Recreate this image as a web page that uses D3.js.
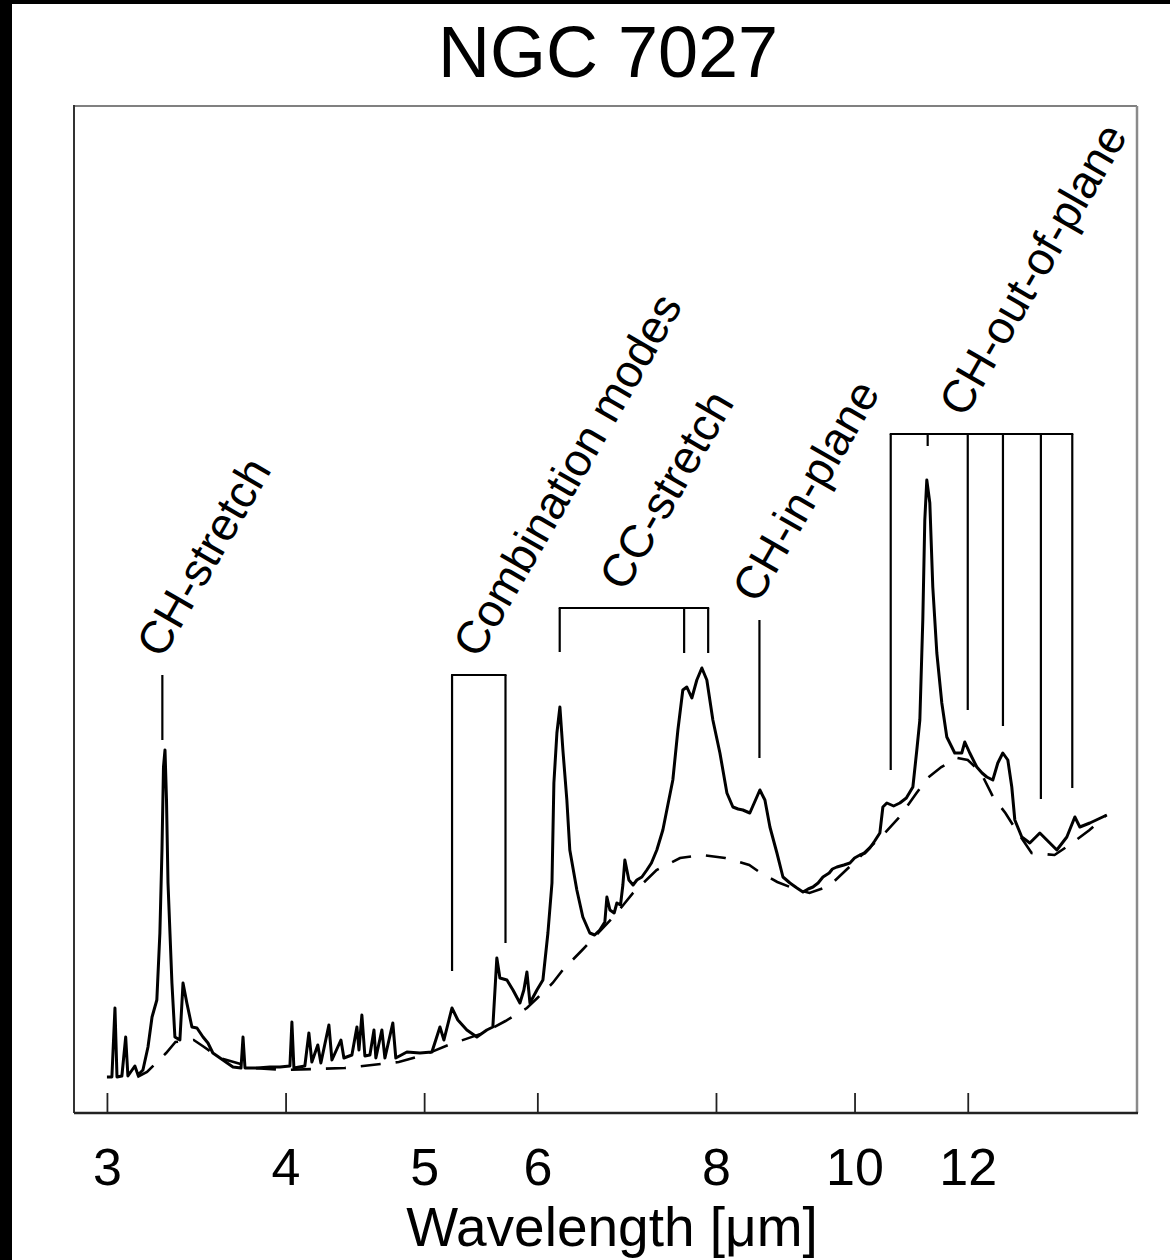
<!DOCTYPE html>
<html><head><meta charset="utf-8">
<script src="https://cdn.jsdelivr.net/npm/d3@7"></script>
<style>html,body{margin:0;padding:0;background:#fff;} svg{display:block;}</style>
</head><body>
<svg id="chart" width="1170" height="1260"></svg>
<script>
// ---------------- data ----------------
const chartTitle = "NGC 7027";
const xAxisLabel = "Wavelength [μm]";
const tickValues = [3, 4, 5, 6, 8, 10, 12];

// observed spectrum (wavelength in μm, flux in arbitrary units)
const wavelength = [3.000,3.024,3.039,3.049,3.073,3.092,3.103,3.138,3.154,3.179,3.205,3.226,3.251,3.267,3.278,3.286,3.294,3.302,3.310,3.331,3.347,3.374,3.391,3.412,3.440,3.468,3.502,3.530,3.558,3.616,3.675,3.723,3.735,3.747,3.820,3.901,3.964,4.028,4.041,4.054,4.126,4.153,4.173,4.213,4.234,4.289,4.310,4.373,4.394,4.451,4.487,4.502,4.523,4.545,4.582,4.612,4.626,4.671,4.694,4.754,4.777,4.863,4.966,5.063,5.129,5.162,5.229,5.279,5.356,5.443,5.531,5.585,5.621,5.649,5.713,5.769,5.834,5.871,5.900,5.929,5.996,6.054,6.103,6.143,6.162,6.192,6.222,6.252,6.292,6.322,6.394,6.456,6.529,6.580,6.635,6.689,6.711,6.744,6.790,6.820,6.860,6.886,6.908,6.953,7.000,7.043,7.100,7.157,7.210,7.273,7.344,7.403,7.463,7.524,7.584,7.633,7.695,7.757,7.820,7.883,7.960,8.051,8.142,8.221,8.290,8.354,8.448,8.544,8.586,8.656,8.726,8.825,8.911,9.012,9.114,9.203,9.280,9.352,9.430,9.504,9.600,9.650,9.720,9.830,9.926,10.000,10.087,10.170,10.250,10.330,10.416,10.467,10.534,10.650,10.757,10.870,10.985,11.055,11.109,11.162,11.198,11.234,11.289,11.343,11.417,11.509,11.602,11.751,11.885,11.943,12.039,12.176,12.280,12.374,12.494,12.595,12.697,12.800,12.882,12.945,13.091,13.261,13.477,13.630,13.851,14.076,14.259,14.374,14.608,15.014];
const flux = [0.36,0.36,1.05,0.36,0.37,0.76,0.37,0.47,0.38,0.43,0.66,0.96,1.13,1.80,2.63,3.46,3.63,3.13,2.30,1.30,0.76,0.73,1.30,1.10,0.86,0.85,0.76,0.70,0.60,0.53,0.46,0.45,0.76,0.45,0.45,0.46,0.46,0.47,0.91,0.45,0.47,0.80,0.51,0.68,0.50,0.88,0.53,0.73,0.55,0.58,0.86,0.63,0.98,0.57,0.58,0.83,0.55,0.83,0.55,0.90,0.55,0.61,0.60,0.61,0.86,0.73,1.05,0.93,0.83,0.76,0.83,0.86,1.55,1.35,1.33,1.23,1.10,1.23,1.41,1.10,1.23,1.33,1.80,2.30,3.30,3.80,4.06,3.63,3.13,2.63,2.23,1.96,1.80,1.78,1.83,1.91,2.16,2.03,2.00,2.10,2.08,2.28,2.53,2.33,2.28,2.33,2.36,2.43,2.50,2.63,2.83,3.08,3.33,3.83,4.23,4.26,4.15,4.33,4.45,4.33,3.93,3.60,3.20,3.06,3.04,3.03,3.00,3.16,3.23,3.13,2.86,2.60,2.36,2.30,2.25,2.21,2.24,2.26,2.30,2.36,2.40,2.44,2.46,2.48,2.50,2.55,2.58,2.60,2.65,2.72,2.80,3.06,3.10,3.07,3.10,3.15,3.26,3.63,3.93,4.93,5.93,6.33,6.10,5.26,4.60,4.10,3.76,3.60,3.60,3.71,3.60,3.46,3.40,3.36,3.33,3.50,3.60,3.53,3.26,2.93,2.76,2.70,2.80,2.73,2.63,2.76,2.96,2.86,2.90,2.98];

// fitted continuum (dashed)
const contWavelength = [3.15,3.20,3.30,3.35,3.45,3.50,3.60,3.80,4.00,4.40,4.80,5.00,5.20,5.50,5.70,5.90,6.00,6.15,6.25,6.45,6.80,7.00,7.27,7.55,7.82,8.12,8.44,8.60,8.83,9.05,9.30,9.60,10.00,10.50,10.75,11.05,11.25,11.50,11.80,12.00,12.25,12.50,12.75,13.00,13.30,13.80,14.20,14.60,15.00];
const contFlux = [0.36,0.41,0.60,0.71,0.73,0.67,0.55,0.45,0.43,0.45,0.51,0.58,0.68,0.80,0.92,1.05,1.15,1.30,1.43,1.63,1.98,2.20,2.43,2.55,2.58,2.55,2.48,2.40,2.31,2.25,2.20,2.27,2.51,2.80,2.96,3.20,3.35,3.46,3.55,3.53,3.41,3.16,3.00,2.81,2.60,2.58,2.70,2.83,2.98];

// band annotations
const bandNames = ["CH-stretch", "Combination modes", "CC-stretch", "CH-in-plane", "CH-out-of-plane"];
const bandLineWavelengths = [[3.28], [5.23, 5.70], [6.22, 7.60, 7.90], [8.58], [10.60, 11.25, 12.00, 12.70, 13.50, 14.20]];
const bandLineBottoms = [[3.73], [1.42, 1.70], [4.61, 4.60, 4.60], [3.55], [3.43, 6.67, 4.03, 3.87, 3.14, 3.25]];
const bandTops = [4.38, 4.38, 5.05, 4.93, 6.79];
const bandLabelWavelengths = [3.28, 5.46, 6.91, 8.56, 11.94];

// ---------------- drawing ----------------
(function () {
const W = 1170, H = 1260;
const pL = 74, pR = 1137, pT = 106, pB = 1113;
const FONT = "'Liberation Sans', Arial, Helvetica, sans-serif";

const svg = d3.select("#chart");
svg.append("rect").attr("width", W).attr("height", H).attr("fill", "#fff");
// black scan borders
svg.append("rect").attr("x", 0).attr("y", 0).attr("width", 12).attr("height", H).attr("fill", "#000");
svg.append("rect").attr("x", 0).attr("y", 0).attr("width", W).attr("height", 4).attr("fill", "#000");

const x = d3.scaleLog().domain([2.845, 15.76]).range([pL, pR]);
const y = d3.scaleLinear().domain([0, 10.07]).range([pB, pT]);

// title
svg.append("text").attr("x", 608).attr("y", 77).attr("text-anchor", "middle")
  .attr("font-family", FONT).attr("font-size", 72).attr("fill", "#000").text(chartTitle);

// frame
svg.append("line").attr("x1", pL).attr("x2", pR).attr("y1", pT).attr("y2", pT).attr("stroke", "#808080").attr("stroke-width", 2.2);
svg.append("line").attr("x1", pR).attr("x2", pR).attr("y1", pT).attr("y2", pB).attr("stroke", "#8a8a8a").attr("stroke-width", 2.5);
svg.append("line").attr("x1", pL).attr("x2", pL).attr("y1", pT - 1).attr("y2", pB).attr("stroke", "#333").attr("stroke-width", 2);
svg.append("line").attr("x1", pL).attr("x2", pR + 1).attr("y1", pB).attr("y2", pB).attr("stroke", "#222").attr("stroke-width", 2.6);

// x axis
const axis = d3.axisBottom(x).tickValues(tickValues).tickFormat(d3.format("d")).tickSize(-20).tickPadding(0);
const gx = svg.append("g").attr("transform", `translate(0,${pB})`).call(axis);
gx.select(".domain").remove();
gx.selectAll(".tick line").attr("stroke", "#222").attr("stroke-width", 1.8);
gx.selectAll(".tick text").attr("y", 72).attr("dy", 0).attr("font-family", FONT)
  .attr("font-size", 52).attr("fill", "#000");

svg.append("text").attr("x", 612).attr("y", 1246).attr("text-anchor", "middle")
  .attr("font-family", FONT).attr("font-size", 55).attr("fill", "#000").text(xAxisLabel);

// continuum
const cont = contWavelength.map((w, i) => [w, contFlux[i]]);
svg.append("path").datum(cont)
  .attr("d", d3.line().x(d => x(d[0])).y(d => y(d[1])))
  .attr("fill", "none").attr("stroke", "#000").attr("stroke-width", 2.6)
  .attr("stroke-dasharray", "20,15");

// spectrum
const spec = wavelength.map((w, i) => [w, flux[i]]);
svg.append("path").datum(spec)
  .attr("d", d3.line().x(d => x(d[0])).y(d => y(d[1])))
  .attr("fill", "none").attr("stroke", "#000").attr("stroke-width", 3)
  .attr("stroke-linejoin", "round");

// band annotations
bandNames.forEach((name, i) => {
  const g = svg.append("g");
  const xs = bandLineWavelengths[i];
  const yt = y(bandTops[i]);
  xs.forEach((w, j) => {
    g.append("line").attr("x1", x(w)).attr("x2", x(w))
      .attr("y1", yt).attr("y2", y(bandLineBottoms[i][j]))
      .attr("stroke", "#000").attr("stroke-width", 2.2);
  });
  if (xs.length > 1) {
    g.append("line").attr("x1", x(xs[0]) - 1).attr("x2", x(xs[xs.length - 1]) + 1)
      .attr("y1", yt).attr("y2", yt).attr("stroke", "#000").attr("stroke-width", 2.2);
  }
  const lx = x(bandLabelWavelengths[i]), ly = yt - 15;
  g.append("text").attr("transform", `translate(${lx},${ly}) rotate(-60)`)
    .attr("font-family", FONT).attr("font-size", 46).attr("fill", "#000")
    .text(name);
});
})();
</script>
</body></html>
